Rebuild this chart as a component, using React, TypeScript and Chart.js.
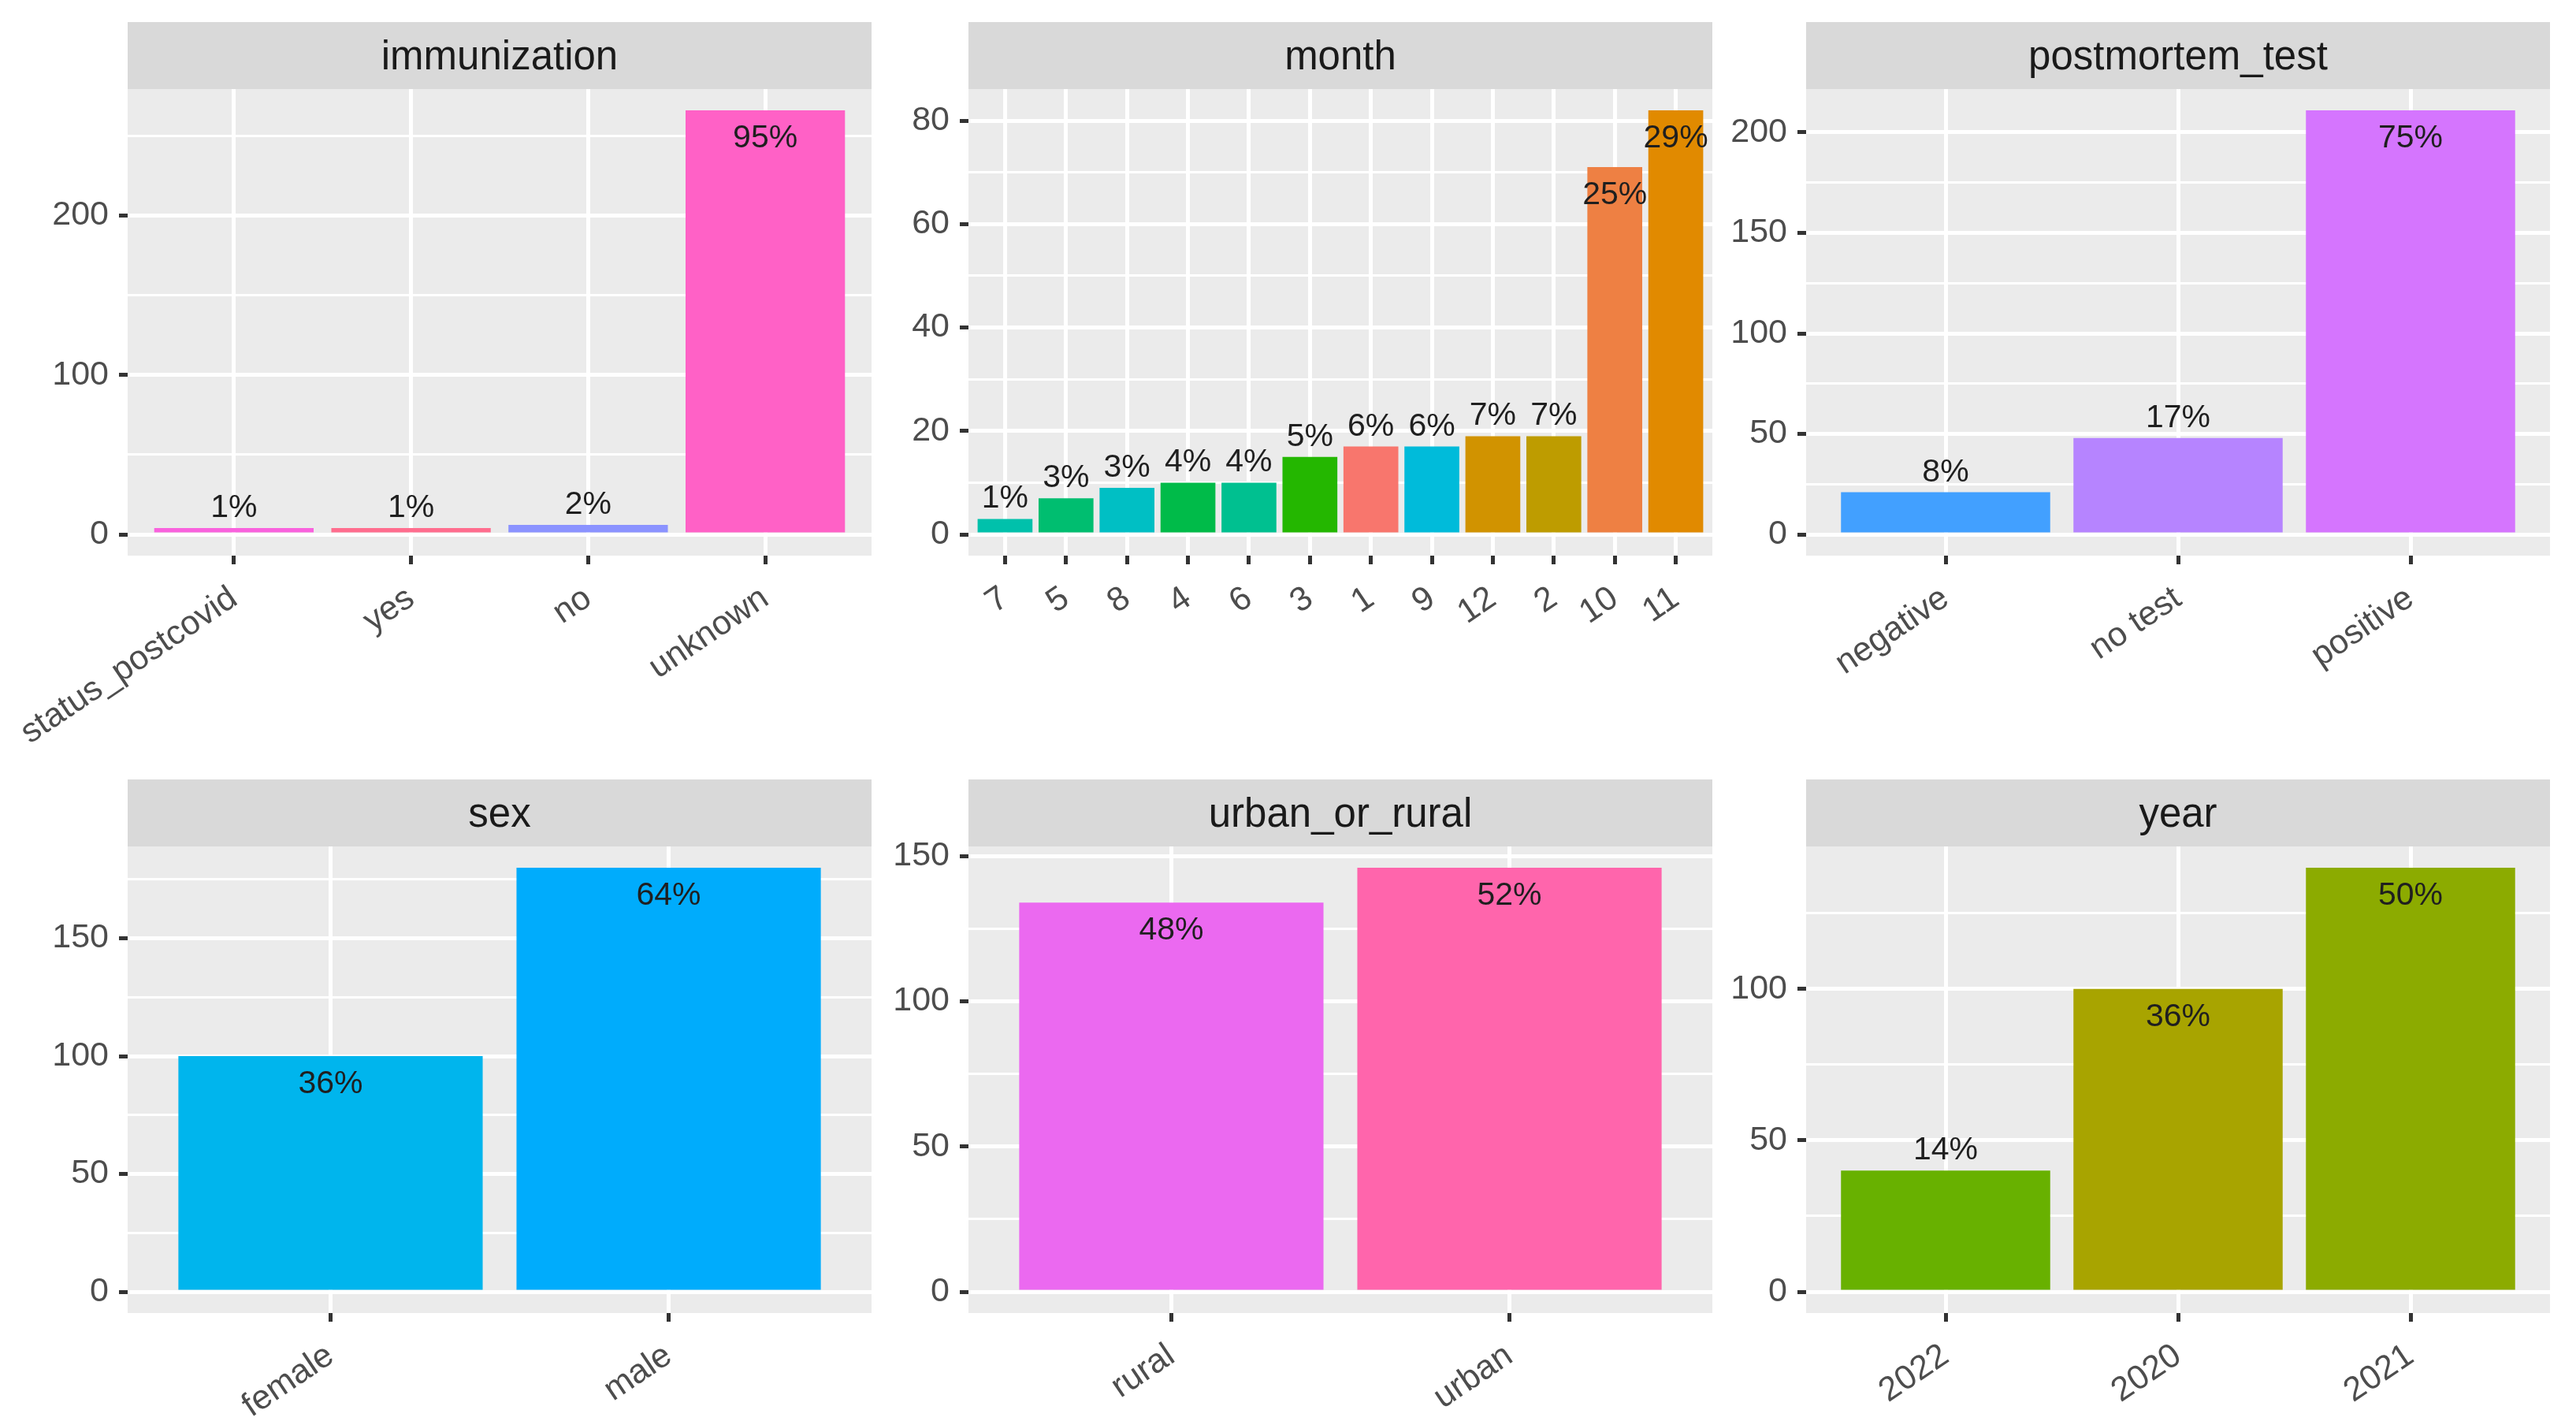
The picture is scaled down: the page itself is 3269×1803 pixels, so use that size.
import { useEffect, useRef } from 'react'
import { Chart, registerables } from 'chart.js'

Chart.register(...registerables)

// ---- data ----
const IMMUNIZATION_CATS = ['status_postcovid', 'yes', 'no', 'unknown']
const IMMUNIZATION_COUNTS = [4, 4, 6, 266]
const IMMUNIZATION_PCT = ['1%', '1%', '2%', '95%']
const IMMUNIZATION_Y_TICKS = [0, 100, 200]

const MONTH_CATS = ['7', '5', '8', '4', '6', '3', '1', '9', '12', '2', '10', '11']
const MONTH_COUNTS = [3, 7, 9, 10, 10, 15, 17, 17, 19, 19, 71, 82]
const MONTH_PCT = ['1%', '3%', '3%', '4%', '4%', '5%', '6%', '6%', '7%', '7%', '25%', '29%']
const MONTH_Y_TICKS = [0, 20, 40, 60, 80]

const POSTMORTEM_CATS = ['negative', 'no test', 'positive']
const POSTMORTEM_COUNTS = [21, 48, 211]
const POSTMORTEM_PCT = ['8%', '17%', '75%']
const POSTMORTEM_Y_TICKS = [0, 50, 100, 150, 200]

const SEX_CATS = ['female', 'male']
const SEX_COUNTS = [100, 180]
const SEX_PCT = ['36%', '64%']
const SEX_Y_TICKS = [0, 50, 100, 150]

const AREA_CATS = ['rural', 'urban']
const AREA_COUNTS = [134, 146]
const AREA_PCT = ['48%', '52%']
const AREA_Y_TICKS = [0, 50, 100, 150]

const YEAR_CATS = ['2022', '2020', '2021']
const YEAR_COUNTS = [40, 100, 140]
const YEAR_PCT = ['14%', '36%', '50%']
const YEAR_Y_TICKS = [0, 50, 100]

// fill levels in ggplot's order (sorted over all facets), one hue each
const FILL_LEVELS = [
  '1', '10', '11', '12', '2', '2020', '2021', '2022', '3', '4', '5', '6', '7', '8', '9',
  'female', 'male', 'negative', 'no', 'no test', 'positive', 'rural',
  'status_postcovid', 'unknown', 'urban', 'yes',
]

// ---- layout ----
const COL_LEFT = [162, 1229, 2292]
const ROW_TOP = [28, 989]
const PANEL_W = 944
const PANEL_H = 592
const STRIP_H = 85
const Y_AXIS_W = 150
const X_AXIS_H = [272, 140]
const FONT = '"Liberation Sans", Arial, sans-serif'

const PANELS = [
  { title: 'immunization', cats: IMMUNIZATION_CATS, counts: IMMUNIZATION_COUNTS, pct: IMMUNIZATION_PCT, yTicks: IMMUNIZATION_Y_TICKS, col: 0, row: 0 },
  { title: 'month', cats: MONTH_CATS, counts: MONTH_COUNTS, pct: MONTH_PCT, yTicks: MONTH_Y_TICKS, col: 1, row: 0 },
  { title: 'postmortem_test', cats: POSTMORTEM_CATS, counts: POSTMORTEM_COUNTS, pct: POSTMORTEM_PCT, yTicks: POSTMORTEM_Y_TICKS, col: 2, row: 0 },
  { title: 'sex', cats: SEX_CATS, counts: SEX_COUNTS, pct: SEX_PCT, yTicks: SEX_Y_TICKS, col: 0, row: 1 },
  { title: 'urban_or_rural', cats: AREA_CATS, counts: AREA_COUNTS, pct: AREA_PCT, yTicks: AREA_Y_TICKS, col: 1, row: 1 },
  { title: 'year', cats: YEAR_CATS, counts: YEAR_COUNTS, pct: YEAR_PCT, yTicks: YEAR_Y_TICKS, col: 2, row: 1 },
]

// R's hcl(h, c = 100, l = 65) -> hex
function hcl(h: number, c = 100, l = 65) {
  const hr = (h * Math.PI) / 180
  const U = c * Math.cos(hr)
  const V = c * Math.sin(hr)
  const Y = Math.pow((l + 16) / 116, 3)
  const Xn = 0.95047, Yn = 1, Zn = 1.08883
  const d = Xn + 15 * Yn + 3 * Zn
  const u = U / (13 * l) + (4 * Xn) / d
  const v = V / (13 * l) + (9 * Yn) / d
  const X = (9 * Y * u) / (4 * v)
  const Z = (3 * Y) / v - X / 3 - 5 * Y
  const lin = [
    3.240479 * X - 1.53715 * Y - 0.498535 * Z,
    -0.969256 * X + 1.875992 * Y + 0.041556 * Z,
    0.055648 * X - 0.204043 * Y + 1.057311 * Z,
  ]
  return '#' + lin.map((x) => {
    const g = x <= 0.0031308 ? 12.92 * x : 1.055 * Math.pow(x, 1 / 2.4) - 0.055
    const n = Math.round(Math.min(1, Math.max(0, g)) * 255)
    return n.toString(16).padStart(2, '0')
  }).join('')
}

const fillFor = (cat: string) => hcl(15 + (360 * FILL_LEVELS.indexOf(cat)) / FILL_LEVELS.length)

type PanelProps = (typeof PANELS)[number]

function Panel({ title, cats, counts, pct, yTicks, col, row }: PanelProps) {
  const canvasRef = useRef<HTMLCanvasElement>(null)

  useEffect(() => {
    if (!canvasRef.current) return
    const top = Math.max(...counts)
    const yMax = top * 1.05
    const yMin = -top * 0.05
    const step = yTicks[1] - yTicks[0]
    const minors = yTicks.map((t) => t + step / 2).filter((t) => t <= yMax)

    const panelPlugin = {
      id: 'panelDecor',
      beforeDraw(chart: Chart) {
        const { ctx, chartArea: a } = chart
        ctx.save()
        ctx.fillStyle = '#EBEBEB'
        ctx.fillRect(a.left, a.top, a.right - a.left, a.bottom - a.top)
        ctx.fillStyle = '#D9D9D9'
        ctx.fillRect(a.left, a.top - STRIP_H, a.right - a.left, STRIP_H)
        ctx.fillStyle = '#1A1A1A'
        ctx.font = `51px ${FONT}`
        ctx.textAlign = 'center'
        ctx.textBaseline = 'middle'
        ctx.fillText(title, (a.left + a.right) / 2, a.top - STRIP_H / 2 + 3)
        ctx.restore()
      },
      afterDatasetsDraw(chart: Chart) {
        const { ctx } = chart
        const meta = chart.getDatasetMeta(0)
        ctx.save()
        ctx.fillStyle = '#1F1F1F'
        ctx.font = `41px ${FONT}`
        ctx.textAlign = 'center'
        ctx.textBaseline = 'alphabetic'
        meta.data.forEach((bar: any, i: number) => {
          const inside = counts[i] > top * 0.5
          ctx.fillText(pct[i], bar.x, inside ? bar.y + 47 : bar.y - 14)
        })
        ctx.restore()
      },
    }

    const chart = new Chart(canvasRef.current, {
      type: 'bar',
      data: {
        datasets: [
          {
            data: counts.map((c, i) => ({ x: i, y: c })),
            backgroundColor: cats.map(fillFor),
            borderWidth: 0,
            barPercentage: 0.9,
            categoryPercentage: 1,
          },
        ],
      },
      options: {
        animation: false,
        responsive: true,
        maintainAspectRatio: false,
        layout: { padding: { top: STRIP_H, left: 0, right: 0, bottom: 0 }, autoPadding: false },
        plugins: { legend: { display: false }, tooltip: { enabled: false } },
        scales: {
          x: {
            type: 'linear',
            offset: false,
            min: -0.6,
            max: cats.length - 0.4,
            afterBuildTicks: (s: any) => {
              s.ticks = cats.map((_, i) => ({ value: i }))
            },
            afterFit: (s: any) => {
              s.height = X_AXIS_H[row]
              s.paddingLeft = 0
              s.paddingRight = 0
            },
            border: { display: false },
            grid: { offset: false, color: '#FFFFFF', lineWidth: 5, tickColor: '#333333', tickLength: 11, tickWidth: 5 },
            ticks: {
              autoSkip: false,
              minRotation: 34,
              maxRotation: 34,
              padding: 18,
              color: '#4D4D4D',
              font: { family: FONT, size: 43 },
              callback: (v: any) => cats[Math.round(Number(v))] ?? '',
            },
          },
          y: {
            type: 'linear',
            min: yMin,
            max: yMax,
            afterBuildTicks: (s: any) => {
              s.ticks = [
                ...yTicks.map((t) => ({ value: t, minor: false })),
                ...minors.map((t) => ({ value: t, minor: true })),
              ].sort((p, q) => p.value - q.value)
            },
            afterFit: (s: any) => {
              s.width = Y_AXIS_W
              s.paddingTop = 0
              s.paddingBottom = 0
            },
            border: { display: false },
            grid: {
              color: '#FFFFFF',
              lineWidth: (c: any) => (c.tick && c.tick.minor ? 3 : 5),
              tickColor: (c: any) => (c.tick && c.tick.minor ? 'rgba(0,0,0,0)' : '#333333'),
              tickLength: 11,
              tickWidth: 5,
            },
            ticks: {
              padding: 13,
              color: '#4D4D4D',
              font: { family: FONT, size: 43 },
              callback: (v: any) => (yTicks.includes(Number(v)) ? String(v) : ''),
            },
          },
        },
      },
      plugins: [panelPlugin],
    } as any)

    return () => {
      chart.destroy()
    }
  }, [])

  return (
    <div
      style={{
        position: 'absolute',
        left: COL_LEFT[col] - Y_AXIS_W,
        top: ROW_TOP[row],
        width: Y_AXIS_W + PANEL_W,
        height: STRIP_H + PANEL_H + X_AXIS_H[row],
      }}
    >
      <canvas ref={canvasRef} style={{ display: 'block' }} />
    </div>
  )
}

export default function App() {
  return (
    <div
      style={{
        position: 'fixed',
        left: 0,
        top: 0,
        width: 3269,
        height: 1803,
        background: '#FFFFFF',
        overflow: 'hidden',
      }}
    >
      {PANELS.map((p) => (
        <Panel key={p.title} {...p} />
      ))}
    </div>
  )
}
